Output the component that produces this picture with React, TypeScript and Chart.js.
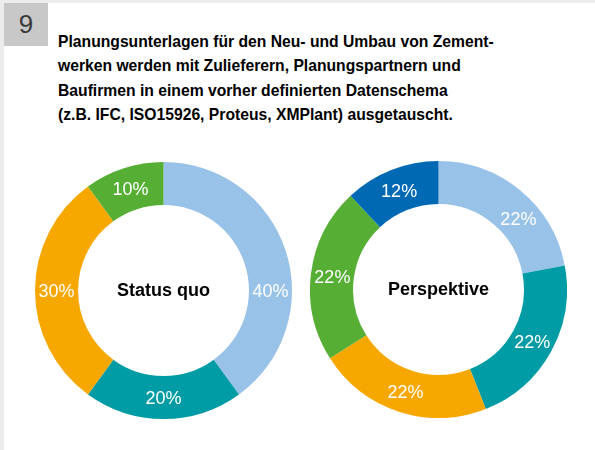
import React, { useEffect, useRef } from "react";
import { Chart, registerables } from "chart.js";

Chart.register(...registerables);

const questionNumber = "9";
const titleLines = [
  "Planungsunterlagen für den Neu- und Umbau von Zement-",
  "werken werden mit Zulieferern, Planungspartnern und",
  "Baufirmen in einem vorher definierten Datenschema",
  "(z.B. IFC, ISO15926, Proteus, XMPlant) ausgetauscht.",
];

const statusLabels = ["A", "B", "C", "D"];
const statusValues = [40, 20, 30, 10];
const statusColors = ["#98c2e8", "#009ca6", "#f6a800", "#56ae35"];
const statusCenter = "Status quo";

const perspLabels = ["A", "B", "C", "D", "E"];
const perspValues = [22, 22, 22, 22, 12];
const perspColors = ["#98c2e8", "#009ca6", "#f6a800", "#56ae35", "#0069b4"];
const perspCenter = "Perspektive";

const FONT = '"Liberation Sans", Arial, Helvetica, sans-serif';

const labelPlugin = {
  id: "donutLabels",
  afterDatasetsDraw(chart: any) {
    const ctx = chart.ctx;
    const meta = chart.getDatasetMeta(0);
    const ds = chart.data.datasets[0];
    const fractions: number[] = (chart.options.plugins.donutLabels || {}).fractions || [];
    ctx.save();
    ctx.fillStyle = "#ffffff";
    ctx.font = `18px ${FONT}`;
    ctx.textAlign = "center";
    ctx.textBaseline = "middle";
    meta.data.forEach((arc: any, i: number) => {
      const p = arc.getProps(["startAngle", "endAngle", "innerRadius", "outerRadius", "x", "y"], true);
      const f = fractions[i] ?? 0.5;
      const a = p.startAngle + (p.endAngle - p.startAngle) * f;
      const r = (p.innerRadius + p.outerRadius) / 2;
      const x = p.x + Math.cos(a) * r;
      const y = p.y + Math.sin(a) * r + 1.5;
      ctx.fillText(ds.data[i] + "%", x, y);
    });
    const center = (chart.options.plugins.donutLabels || {}).center;
    if (center) {
      ctx.fillStyle = "#000000";
      ctx.font = `bold 18px ${FONT}`;
      const arc = meta.data[0];
      ctx.fillText(center, arc.x, arc.y + 1);
    }
    ctx.restore();
  },
};

function Donut(props: {
  labels: string[];
  values: number[];
  colors: string[];
  center: string;
  fractions: number[];
  style: React.CSSProperties;
}) {
  const ref = useRef<HTMLCanvasElement | null>(null);
  useEffect(() => {
    if (!ref.current) return;
    const chart = new Chart(ref.current, {
      type: "doughnut",
      data: {
        labels: props.labels,
        datasets: [
          {
            data: props.values,
            backgroundColor: props.colors,
            borderWidth: 0,
          },
        ],
      },
      options: {
        animation: false,
        responsive: false,
        cutout: "66.5%",
        layout: { padding: 0 },
        plugins: {
          legend: { display: false },
          tooltip: { enabled: false },
          donutLabels: { fractions: props.fractions, center: props.center },
        } as any,
      },
      plugins: [labelPlugin],
    });
    return () => chart.destroy();
  }, []);
  return <canvas ref={ref} width={257} height={257} style={{ position: "absolute", ...props.style }} />;
}

export default function App() {
  return (
    <div
      style={{
        position: "fixed",
        left: 0,
        top: 0,
        width: 595,
        height: 450,
        background: "#ececec",
        overflow: "hidden",
      }}
    >
      <div
        style={{
          position: "absolute",
          left: 4,
          top: 3,
          right: 0,
          bottom: 0,
          background: "#ffffff",
        }}
      />
      <div
        style={{
          position: "absolute",
          left: 4,
          top: 3,
          width: 44,
          height: 43,
          background: "#c8c8c8",
          color: "#3a3a3a",
          fontFamily: FONT,
          fontSize: 26,
          lineHeight: "43px",
          textAlign: "center",
        }}
      >
        {questionNumber}
      </div>
      <div
        style={{
          position: "absolute",
          left: 58,
          top: 30,
          fontFamily: FONT,
          fontWeight: "bold",
          fontSize: 15.7,
          lineHeight: "24.3px",
          color: "#000",
          whiteSpace: "nowrap",
        }}
      >
        {titleLines.map((l, i) => (
          <div key={i}>{l}</div>
        ))}
      </div>
      <Donut
        labels={statusLabels}
        values={statusValues}
        colors={statusColors}
        center={statusCenter}
        fractions={[0.625, 0.5, 0.5, 0.5]}
        style={{ left: 35, top: 162 }}
      />
      <Donut
        labels={perspLabels}
        values={perspValues}
        colors={perspColors}
        center={perspCenter}
        fractions={[0.61, 0.5, 0.5, 0.5, 0.5]}
        style={{ left: 310, top: 161 }}
      />
    </div>
  );
}
